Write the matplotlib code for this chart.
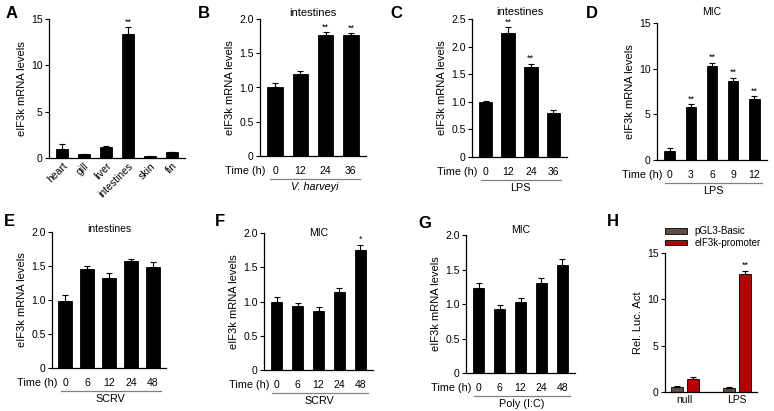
import numpy as np
import matplotlib.pyplot as plt
from matplotlib.transforms import ScaledTranslation

plt.rcParams['font.family'] = ['Liberation Sans', 'DejaVu Sans']

W, H = 774, 411

# panel A: tissues
tissues = ['heart', 'gill', 'liver', 'intestines', 'skin', 'fin']
a_vals = [1.0, 0.45, 1.2, 13.4, 0.2, 0.6]
a_err = [0.5, 0.03, 0.05, 0.7, 0.05, 0.05]
a_sig = ['', '', '', '**', '', '']

# panel B: V. harveyi, intestines
b_time = ['0', '12', '24', '36']
b_vals = [1.0, 1.2, 1.76, 1.76]
b_err = [0.06, 0.04, 0.05, 0.03]
b_sig = ['', '', '**', '**']

# panel C: LPS, intestines
c_time = ['0', '12', '24', '36']
c_vals = [1.0, 2.25, 1.63, 0.8]
c_err = [0.02, 0.1, 0.06, 0.05]
c_sig = ['', '**', '**', '']

# panel D: LPS, MIC
d_time = ['0', '3', '6', '9', '12']
d_vals = [1.0, 5.8, 10.3, 8.7, 6.7]
d_err = [0.3, 0.3, 0.35, 0.3, 0.3]
d_sig = ['', '**', '**', '**', '**']

# panel E: SCRV, intestines
e_time = ['0', '6', '12', '24', '48']
e_vals = [0.98, 1.46, 1.32, 1.58, 1.49]
e_err = [0.1, 0.04, 0.07, 0.02, 0.07]

# panel F: SCRV, MIC
f_time = ['0', '6', '12', '24', '48']
f_vals = [1.0, 0.93, 0.86, 1.14, 1.75]
f_err = [0.06, 0.05, 0.06, 0.05, 0.08]
f_sig = ['', '', '', '', '*']

# panel G: Poly (I:C), MIC
g_time = ['0', '6', '12', '24', '48']
g_vals = [1.23, 0.93, 1.03, 1.30, 1.57]
g_err = [0.07, 0.05, 0.06, 0.07, 0.08]

# panel H: luciferase
h_groups = ['null', 'LPS']
h_basic = [0.55, 0.45]
h_basic_err = [0.05, 0.05]
h_prom = [1.4, 12.7]
h_prom_err = [0.25, 0.4]
h_prom_sig = ['', '**']

fig = plt.figure(figsize=(W / 100, H / 100), dpi=100)

TICK_FS = 7.5
LAB_FS = 8
PX = 0.72  # points per pixel at 100 dpi


def px_offset(dx, dy):
    return ScaledTranslation(dx * PX / 72, dy * PX / 72, fig.dpi_scale_trans)


def make_ax(x0, x1, ytop, ybot, xpad=7):
    ax = fig.add_axes([x0 / W, 1 - ybot / H, (x1 - x0) / W, (ybot - ytop) / H])
    for s in ['top', 'right']:
        ax.spines[s].set_visible(False)
    for s in ['left', 'bottom']:
        ax.spines[s].set_linewidth(0.9)
    ax.tick_params(axis='y', length=3, width=0.8, labelsize=TICK_FS, pad=1.5)
    ax.tick_params(axis='x', length=0, labelsize=TICK_FS, pad=xpad)
    return ax


def bars(ax, vals, err, width, sig=None, color='black'):
    x = np.arange(len(vals))
    ax.bar(x, vals, width=width, color=color, edgecolor='black', linewidth=0.6)
    ax.errorbar(x, vals, yerr=[np.zeros(len(vals)), err], fmt='none',
                ecolor='black', elinewidth=0.8, capsize=2.5, capthick=0.8)
    if sig:
        top = ax.get_ylim()[1]
        for xi, v, e, s in zip(x, vals, err, sig):
            if s:
                ax.text(xi, v + e + top * 0.005, s, ha='center', va='bottom',
                        fontsize=6.5)
    ax.set_xlim(-0.6, len(vals) - 0.4)
    return x


def time_axis(ax, labels, group, italic=False):
    n = len(labels)
    ax.set_xticks(np.arange(n))
    ax.set_xticklabels(labels)
    # "Time (h)" on the tick-label row, just right of the spine
    ax.text(0, 0, 'Time (h)', transform=ax.transAxes + px_offset(5, -15),
            ha='right', va='center', fontsize=TICK_FS + 0.3)
    ax.plot([-0.2, n - 1 + 0.35], [0, 0],
            transform=ax.get_xaxis_transform() + px_offset(0, -23),
            color='gray', lw=0.9, clip_on=False)
    ax.text((n - 1) / 2 + 0.05, 0, group,
            transform=ax.get_xaxis_transform() + px_offset(0, -31),
            ha='center', va='center', fontsize=TICK_FS + 0.3,
            style='italic' if italic else 'normal')


def title(ax, s, dy, fs=LAB_FS):
    # dy: pixels of the text centre above the top of the axes
    ax.text(0.5, 1, s, transform=ax.transAxes + px_offset(0, dy),
            ha='center', va='center', fontsize=fs)


def panel_letter(x, y, s):
    fig.text(x / W, 1 - y / H, s, fontsize=12, fontweight='bold',
             ha='left', va='center')


def frac_ticks(ax, top):
    ticks = np.arange(0, top + 0.01, 0.5)
    ax.set_ylim(0, top)
    ax.set_yticks(ticks)
    ax.set_yticklabels(['0'] + ['%.1f' % t for t in ticks[1:]])


# A
ax = make_ax(49, 185, 19, 158, xpad=2)
ax.set_ylim(0, 15)
ax.set_yticks([0, 5, 10, 15])
bars(ax, a_vals, a_err, 0.55, a_sig)
ax.set_xticks(np.arange(len(tissues)))
ax.set_xticklabels(tissues, rotation=45, ha='right', rotation_mode='anchor')
ax.set_ylabel('eIF3k mRNA levels', fontsize=LAB_FS, labelpad=3)
panel_letter(6, 14, 'A')

# B
ax = make_ax(260, 366, 19, 156)
frac_ticks(ax, 2.0)
bars(ax, b_vals, b_err, 0.62, b_sig)
time_axis(ax, b_time, 'V. harveyi', italic=True)
ax.set_ylabel('eIF3k mRNA levels', fontsize=LAB_FS, labelpad=3)
title(ax, 'intestines', 6)
panel_letter(198, 14, 'B')

# C
ax = make_ax(472, 567, 19, 157)
frac_ticks(ax, 2.5)
bars(ax, c_vals, c_err, 0.6, c_sig)
time_axis(ax, c_time, 'LPS')
ax.set_ylabel('eIF3k mRNA levels', fontsize=LAB_FS, labelpad=3)
title(ax, 'intestines', 7)
panel_letter(390, 14, 'C')

# D
ax = make_ax(657, 767, 23, 160)
ax.set_ylim(0, 15)
ax.set_yticks([0, 5, 10, 15])
bars(ax, d_vals, d_err, 0.5, d_sig)
time_axis(ax, d_time, 'LPS')
ax.set_ylabel('eIF3k mRNA levels', fontsize=LAB_FS, labelpad=3)
title(ax, 'MIC', 11, LAB_FS - 0.5)
panel_letter(586, 14, 'D')

# E
ax = make_ax(52, 166, 232, 368)
frac_ticks(ax, 2.0)
bars(ax, e_vals, e_err, 0.62)
time_axis(ax, e_time, 'SCRV')
ax.set_ylabel('eIF3k mRNA levels', fontsize=LAB_FS, labelpad=3)
title(ax, 'intestines', 3, LAB_FS - 0.5)
panel_letter(4, 221, 'E')

# F
ax = make_ax(264, 373, 233, 370)
frac_ticks(ax, 2.0)
bars(ax, f_vals, f_err, 0.55, f_sig)
time_axis(ax, f_time, 'SCRV')
ax.set_ylabel('eIF3k mRNA levels', fontsize=LAB_FS, labelpad=3)
title(ax, 'MIC', 0, LAB_FS - 0.5)
panel_letter(215, 221, 'F')

# G
ax = make_ax(466, 575, 235, 373)
frac_ticks(ax, 2.0)
bars(ax, g_vals, g_err, 0.55)
time_axis(ax, g_time, 'Poly (I:C)')
ax.set_ylabel('eIF3k mRNA levels', fontsize=LAB_FS, labelpad=3)
title(ax, 'MIC', 5, LAB_FS - 0.5)
panel_letter(418, 223, 'G')

# H
ax = make_ax(665, 757, 253, 392, xpad=2)
ax.set_ylim(0, 15)
ax.set_yticks([0, 5, 10, 15])
xg = np.arange(len(h_groups)) * 2.0
bw = 0.45
ax.bar(xg - 0.3, h_basic, width=bw, color='#5e4e45', edgecolor='black',
       linewidth=0.6, label='pGL3-Basic')
ax.bar(xg + 0.3, h_prom, width=bw, color='#b30000', edgecolor='black',
       linewidth=0.6, label='eIF3k-promoter')
ax.errorbar(xg - 0.3, h_basic, yerr=[np.zeros(2), h_basic_err], fmt='none',
            ecolor='black', elinewidth=0.8, capsize=2, capthick=0.8)
ax.errorbar(xg + 0.3, h_prom, yerr=[np.zeros(2), h_prom_err], fmt='none',
            ecolor='black', elinewidth=0.8, capsize=2, capthick=0.8)
for xi, v, e, s in zip(xg + 0.3, h_prom, h_prom_err, h_prom_sig):
    if s:
        ax.text(xi, v + e + 0.05, s, ha='center', va='bottom', fontsize=6.5)
ax.set_xlim(-0.75, 2.75)
ax.set_xticks(xg)
ax.set_xticklabels(h_groups)
ax.set_ylabel('Rel. Luc. Act', fontsize=LAB_FS, labelpad=3)
ax.legend(loc='lower left', bbox_to_anchor=(-0.05, 1.0), frameon=False,
          fontsize=7, handlelength=2.2, handleheight=0.5, labelspacing=0.2,
          borderpad=0, handletextpad=0.8)
panel_letter(607, 221, 'H')

fig.savefig('out.png', dpi=100)
